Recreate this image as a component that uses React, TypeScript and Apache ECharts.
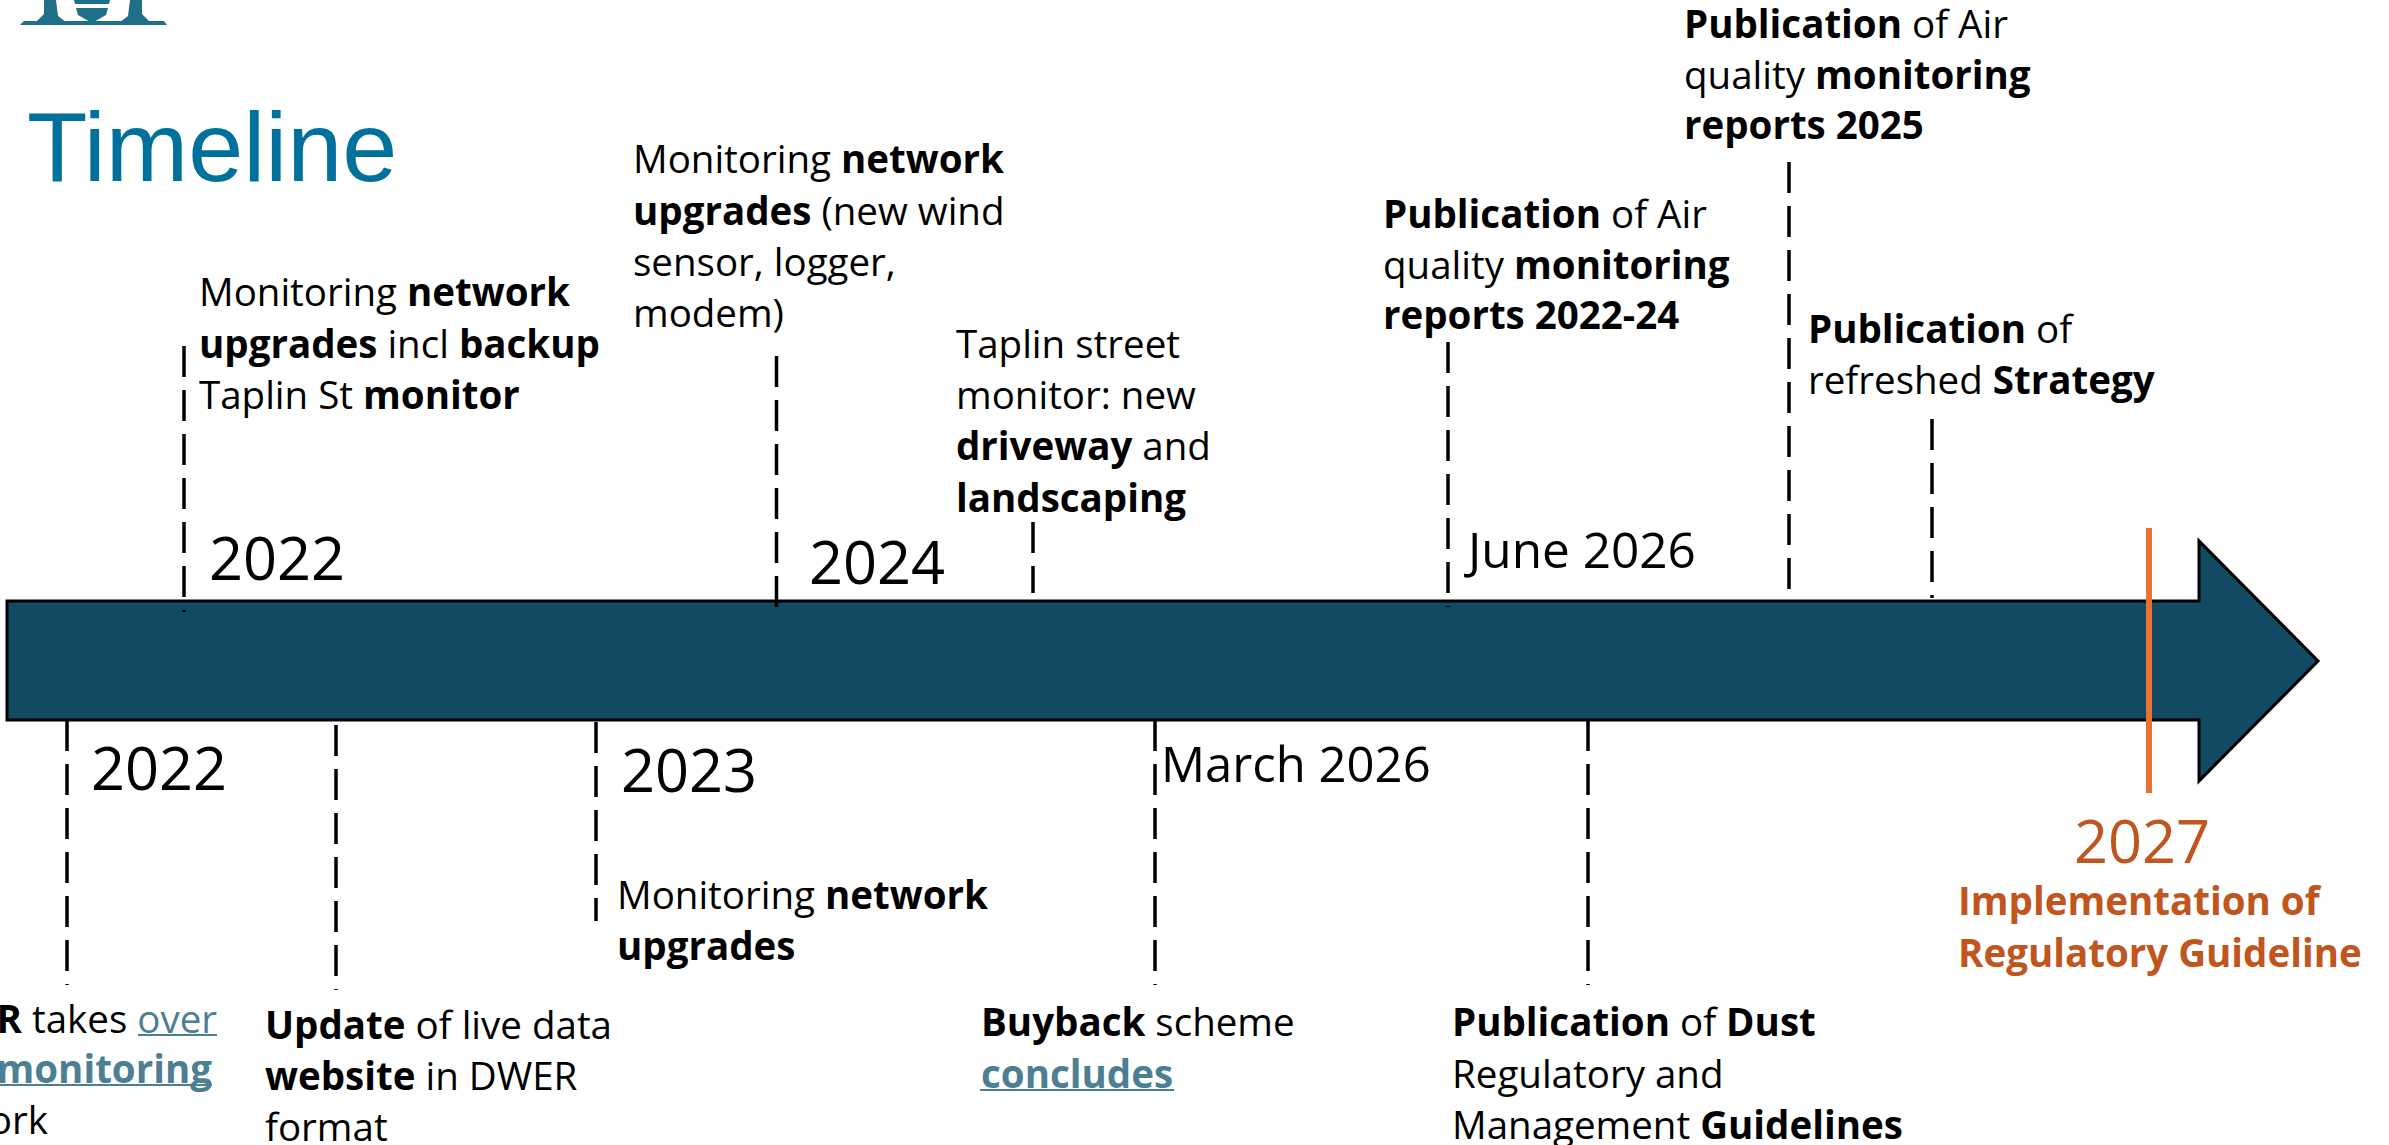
import React, { useEffect, useRef } from "react";
import * as echarts from "echarts";

const W = 2389;
const H = 1145;
const FONT = "Open Sans";
const NAVY = "#134A63";
const TEAL = "#4C7F91";
const RUST = "#C0561E";
const TITLE = "#00709C";

// Arrow outline on the layout axes [x, y]
const arrowOutline = [
  [7, 601], [2199, 601], [2199, 541], [2318, 661], [2199, 781], [2199, 720], [7, 720],
];
// Dashed event markers: [x, yStart, yEnd]
const topMarkers = [
  [184, 346, 612], [776.5, 356, 619], [1033, 522, 593],
  [1448, 342, 607], [1789, 162, 591], [1932, 419, 598],
];
const bottomMarkers = [
  [67, 720, 985], [336, 725, 990], [596, 722, 921], [1155, 720, 985], [1588, 720, 985],
];
const target = [2149, 528, 793];

// Text lines: [x, baseline, text]
const bodyLines: [number, number, string][] = [
  [199, 305, "Monitoring {b|network}"],
  [199, 357, "{b|upgrades} incl {b|backup}"],
  [199, 408, "Taplin St {b|monitor}"],
  [633, 172, "Monitoring {b|network}"],
  [633, 224, "{b|upgrades} (new wind"],
  [633, 275, "sensor, logger,"],
  [633, 326, "modem)"],
  [956, 357, "Taplin street"],
  [956, 408, "monitor: new"],
  [956, 459, "{b|driveway} and"],
  [956, 511, "{b|landscaping}"],
  [1383, 227, "{b|Publication} of Air"],
  [1383, 278, "quality {b|monitoring}"],
  [1383, 328, "{b|reports 2022-24}"],
  [1684, 37, "{b|Publication} of Air"],
  [1684, 88, "quality {b|monitoring}"],
  [1684, 138, "{b|reports 2025}"],
  [1808, 342, "{b|Publication} of"],
  [1808, 393, "refreshed {b|Strategy}"],
  [265, 1038, "{b|Update} of live data"],
  [265, 1089, "{b|website} in DWER"],
  [265, 1140, "format"],
  [617, 908, "Monitoring {b|network}"],
  [617, 959, "{b|upgrades}"],
  [981, 1035, "{b|Buyback} scheme"],
  [981, 1087, "{t|concludes}"],
  [1452, 1035, "{b|Publication} of {b|Dust}"],
  [1452, 1087, "Regulatory and"],
  [1452, 1138, "Management {b|Guidelines}"],
  [1958, 914, "{r|Implementation of}"],
  [1958, 966, "{r|Regulatory Guideline}"],
];
// Lines whose start is cut off by the page edge: [right edge, baseline, text]
const clippedLines: [number, number, string][] = [
  [217, 1032, "{b|DWER} takes {u|over}"],
  [212, 1082, "{t|air monitoring}"],
  [48, 1133, "network"],
];
const underlines = [
  [138, 217, 1035],
  [0, 212, 1085],
  [980, 1174, 1090],
];
// Dates: [x, baseline, text, font size]
const dateLabels: [number, number, string, number][] = [
  [209, 578, "2022", 59.5],
  [809, 582, "2024", 59.5],
  [1468, 567, "June 2026", 49.5],
  [91, 788, "2022", 59.5],
  [621, 790, "2023", 59.5],
  [1161, 781, "March 2026", 49],
];
const finalYear = "2027";
const titleText = "Timeline";

// Foot of the crest cut off by the top of the page
const crestParts = [
  [[20, 25], [167, 25], [164, 21], [24, 21]],
  [[74, 0], [110, 0], [109, 4], [75, 4]],
  [[76, 8], [108, 8], [106, 15], [92, 23], [78, 15]],
  [[44, 0], [56, 0], [58, 16], [66, 22], [36, 22], [44, 14]],
  [[130, 0], [142, 0], [142, 14], [150, 22], [120, 22], [128, 16]],
];

const bodySize = 38.5;
const BASE = 0.14;

function textEl(x: number, baseline: number, text: string, size: number, color: string, align = "left", family = FONT, weight: any = 400) {
  return {
    type: "text",
    x,
    y: baseline + size * BASE,
    silent: true,
    style: {
      text,
      fontFamily: family,
      fontSize: size,
      fontWeight: weight,
      fill: color,
      align,
      verticalAlign: "bottom",
      lineHeight: size,
      rich: {
        b: { fontFamily: family, fontSize: size, fontWeight: 700, fill: "#000", lineHeight: size },
        t: { fontFamily: family, fontSize: size, fontWeight: 700, fill: TEAL, lineHeight: size },
        u: { fontFamily: family, fontSize: size, fontWeight: 400, fill: TEAL, lineHeight: size },
        r: { fontFamily: family, fontSize: size, fontWeight: 700, fill: RUST, lineHeight: size },
      },
    },
  };
}

function lineSeries(m: number[], color: string, width: number, dash: any) {
  return {
    type: "line",
    silent: true,
    showSymbol: false,
    symbol: "none",
    data: [[m[0], m[1]], [m[0], m[2]]],
    lineStyle: { color, width, type: dash, cap: "butt" },
    z: 5,
  };
}

export default function App() {
  const ref = useRef<HTMLDivElement>(null);
  useEffect(() => {
    const el = ref.current!;
    const chart = echarts.init(el, null, { renderer: "svg", width: W, height: H });
    chart.setOption({
      animation: false,
      backgroundColor: "#fff",
      grid: { left: 0, right: 0, top: 0, bottom: 0 },
      xAxis: { type: "value", min: 0, max: W, show: false },
      yAxis: { type: "value", min: 0, max: H, inverse: true, show: false },
      series: [
        {
          type: "custom",
          silent: true,
          coordinateSystem: "cartesian2d",
          data: [0],
          renderItem: (_p: any, api: any) => ({
            type: "polygon",
            shape: { points: arrowOutline.map((p) => api.coord(p)) },
            style: { fill: NAVY, stroke: "#000", lineWidth: 3, lineJoin: "miter" },
          }),
          z: 2,
        },
        {
          type: "custom",
          silent: true,
          coordinateSystem: "cartesian2d",
          data: crestParts.map((_, i) => i),
          renderItem: (p: any, api: any) => ({
            type: "polygon",
            shape: { points: crestParts[p.dataIndex].map((c) => api.coord(c)) },
            style: { fill: "#1F6F8B" },
          }),
          z: 2,
        },
        ...topMarkers.map((m) => lineSeries(m, "#000", 3.5, [31, 13])),
        ...bottomMarkers.map((m) => lineSeries(m, "#000", 3.5, [31, 13])),
        lineSeries(target, "#E97132", 6, "solid"),
        ...underlines.map((u) => ({
          type: "line",
          silent: true,
          symbol: "none",
          data: [[u[0], u[2]], [u[1], u[2]]],
          lineStyle: { color: TEAL, width: 2 },
          z: 5,
        })),
      ],
      graphic: {
        elements: [
          textEl(27, 182, titleText, 99, TITLE, "left", "Liberation Sans"),
          ...bodyLines.map(([x, y, t]) => textEl(x, y, t, bodySize, "#000")),
          ...clippedLines.map(([x, y, t]) => textEl(x, y, t, bodySize, "#000", "right")),
          ...dateLabels.map(([x, y, t, s]) => textEl(x, y, t, s, "#000")),
          textEl(2074, 861, finalYear, 59.5, RUST),
        ],
      },
    });
    return () => chart.dispose();
  }, []);
  return <div ref={ref} style={{ position: "fixed", left: 0, top: 0, width: W, height: H, overflow: "hidden" }} />;
}
